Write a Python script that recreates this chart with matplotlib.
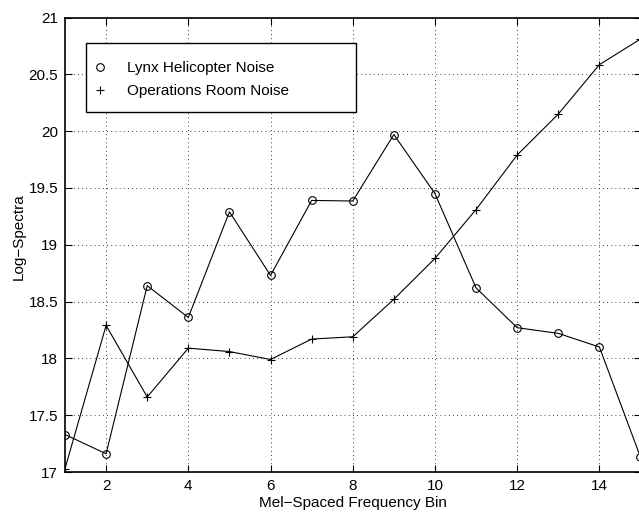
import matplotlib
matplotlib.use("Agg")
import matplotlib.pyplot as plt
from matplotlib.lines import Line2D
from matplotlib.patches import Rectangle
from matplotlib.ticker import FuncFormatter

plt.rcParams['font.family'] = ['Liberation Sans', 'DejaVu Sans']

bins = list(range(1, 16))
lynx = [17.33, 17.16, 18.64, 18.36, 19.29, 18.73, 19.39, 19.385, 19.97, 19.45,
        18.62, 18.27, 18.22, 18.10, 17.13]
ops = [17.03, 18.29, 17.66, 18.09, 18.06, 17.99, 18.17, 18.19, 18.52, 18.88,
       19.31, 19.79, 20.15, 20.585, 20.81]
labels = ["Lynx Helicopter Noise", "Operations Room Noise"]
xticks = [2, 4, 6, 8, 10, 12, 14]
yticks = [17, 17.5, 18, 18.5, 19, 19.5, 20, 20.5, 21]

W, H = 639, 513
fig = plt.figure(figsize=(W / 100, H / 100), dpi=100)
l, r, t, b = 65, 640.5, 17.5, 472
ax = fig.add_axes([l / W, 1 - b / H, (r - l) / W, (b - t) / H])

ax.plot(bins, lynx, color='black', lw=0.8, marker='o', ms=5.5, mfc='none', mec='black', mew=0.8)
ax.plot(bins, ops, color='black', lw=0.8, marker='+', ms=5.5, mec='black', mew=0.8)

ax.set_xlim(1, 15)
ax.set_ylim(17, 21)
ax.set_xticks(xticks)
ax.set_yticks(yticks)
ax.yaxis.set_major_formatter(FuncFormatter(lambda v, p: '%g' % v))
ax.tick_params(direction='in', length=5, width=0.8, top=True, right=True,
               labelsize=11, pad=5)
ax.grid(True, color='black', linestyle=(0, (1, 4)), linewidth=0.6)
for s in ax.spines.values():
    s.set_linewidth(1.2)

ax.set_xlabel("Mel\u2212Spaced Frequency Bin", fontsize=11, labelpad=2)
ax.set_ylabel("Log\u2212Spectra", fontsize=11)
ax.yaxis.set_label_coords(-0.0678, 0.518)

handles = [Line2D([], [], linestyle='none', marker='o', ms=5.5, mfc='none', mec='black', mew=0.8),
           Line2D([], [], linestyle='none', marker='+', ms=5.5, mec='black', mew=0.8)]
leg = ax.legend(handles, labels, loc='upper left', frameon=False, fontsize=11,
                bbox_to_anchor=(92.4 / W, 1 - 61.2 / H), bbox_transform=fig.transFigure,
                borderpad=0, borderaxespad=0, handlelength=1.0, handletextpad=1.26,
                labelspacing=0.605)
rect = Rectangle((86 / W, 1 - 112.3 / H), (356 - 86) / W, (112.3 - 42.5) / H,
                 transform=fig.transFigure, facecolor='white', edgecolor='black',
                 linewidth=1.0, zorder=4)
ax.add_patch(rect)
rect.set_clip_on(False)
leg.set_zorder(5)

fig.savefig("out.png", dpi=100)
